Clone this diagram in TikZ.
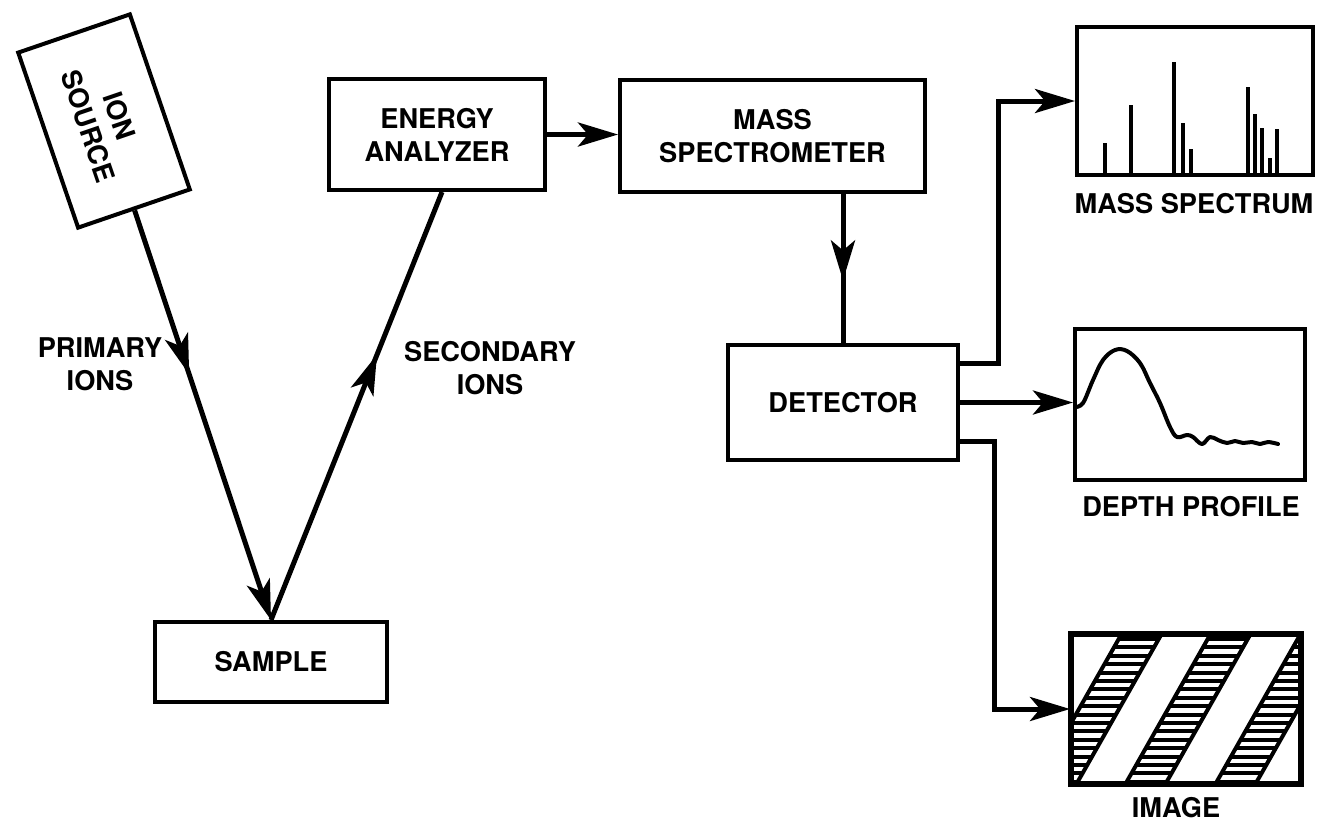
\documentclass[tikz,border=0pt]{standalone}
\usepackage{fontspec}
\setmainfont{TeX Gyre Heros}
\usetikzlibrary{arrows.meta,decorations.markings}
\newcommand{\lblfont}{\fontsize{13.6}{16.5}\selectfont\bfseries}
\tikzset{
  blockbox/.style={draw, line width=2pt, inner sep=0pt, align=center, font=\lblfont},
  plainlbl/.style={inner sep=0pt, align=center, font=\lblfont},
  conn/.style={line width=2.5pt},
  bigtip/.tip={Stealth[length=20pt,width=12pt,inset=5pt]},
  endarrow/.style={conn,-bigtip},
  midarrow/.style={postaction={decorate},
    decoration={markings, mark=at position #1 with {\arrow{bigtip}}}},
  peak/.style={line width=1.6pt},
  hatchline/.style={line width=2pt},
  bandline/.style={line width=2pt}
}
\begin{document}
\begin{tikzpicture}[x=0.5pt,y=-0.5pt]
\useasboundingbox (0,0) rectangle (1317,821);
% boxes
\node[blockbox, rotate=-71.1, minimum width=92.5pt, minimum height=59pt] (ion) at (104,121) {ION\\SOURCE};
\node[blockbox, minimum width=116pt, minimum height=40pt] (sample) at (271,662) {SAMPLE};
\node[blockbox, minimum width=108pt, minimum height=55.5pt] (ea) at (437,134.5) {ENERGY\\ANALYZER};
\node[blockbox, minimum width=152.5pt, minimum height=56pt] (ms) at (772.5,136) {MASS\\SPECTROMETER};
\node[blockbox, minimum width=115pt, minimum height=57.5pt] (det) at (843,402.5) {DETECTOR};
\node[blockbox, minimum width=118pt, minimum height=74pt] (spec) at (1195,101) {};
\node[blockbox, minimum width=115pt, minimum height=75.5pt] (depth) at (1190,404.5) {};
\node[blockbox, minimum width=114pt, minimum height=74pt, fill=white] (img) at (1186,709) {};
% labels
\node[plainlbl] (plbl) at (100,364) {PRIMARY\\IONS};
\node[plainlbl] (slbl) at (490,368) {SECONDARY\\IONS};
\node[plainlbl] (speclbl) at (1194,204) {MASS SPECTRUM};
\node[plainlbl] (depthlbl) at (1191,507) {DEPTH PROFILE};
\node[plainlbl] (imglbl) at (1176,808) {IMAGE};
% connectors
\draw[endarrow, midarrow=0.40] (ion.east) -- (sample.north);
\draw[conn, midarrow=0.62] (sample.north) -- ([xshift=2.5pt]ea.south);
\draw[endarrow] (ea.east) -- (ea.east -| ms.west);
\draw[conn, midarrow=0.58] (ms.south -| det.north) -- (det.north);
\draw[endarrow] ([yshift=19.75pt]det.east) -- ++(38,0) |- (spec.west);
\draw[endarrow] (det.east) -- (det.east -| depth.west);
\draw[endarrow] ([yshift=-19.25pt]det.east) -- ++(34,0) |- (img.west);
% mass spectrum peaks
\foreach \px/\py in {1105/143,1131/105,1174/62,1183/123,1191/149,1248/87,1255/114,1262/128,1270/158,1277/129}
  \draw[peak] (\px,175) -- (\px,\py);
% depth profile curve
\draw[line width=2pt, line join=round, line cap=round] plot[smooth, tension=0.6] coordinates {
 (1075,407) (1083,403) (1093,380) (1103,360) (1115,350) (1127,351) (1140,363)
 (1150,383) (1160,403) (1170,427) (1177,437) (1187,435) (1193,437) (1202,444)
 (1210,437) (1218,440) (1227,443) (1235,441) (1243,443) (1252,442) (1260,444)
 (1268,442) (1278,444)};
% image hatching
\begin{scope}
\clip (1072,635) rectangle (1300,783);
\foreach \b in {1037,1126,1216} {
  \begin{scope}
  \clip (\b,783) -- (\b+40,783) -- (\b+124,635) -- (\b+84,635) -- cycle;
  \foreach \k in {0,...,17} \draw[hatchline] (1000,639+\k*8.4) -- (1400,639+\k*8.4);
  \end{scope}
  \draw[bandline] (\b,783) -- (\b+84,635);
  \draw[bandline] (\b+40,783) -- (\b+124,635);
}
\end{scope}
\draw[line width=2pt] (img.south west) rectangle (img.north east);
\end{tikzpicture}
\end{document}
